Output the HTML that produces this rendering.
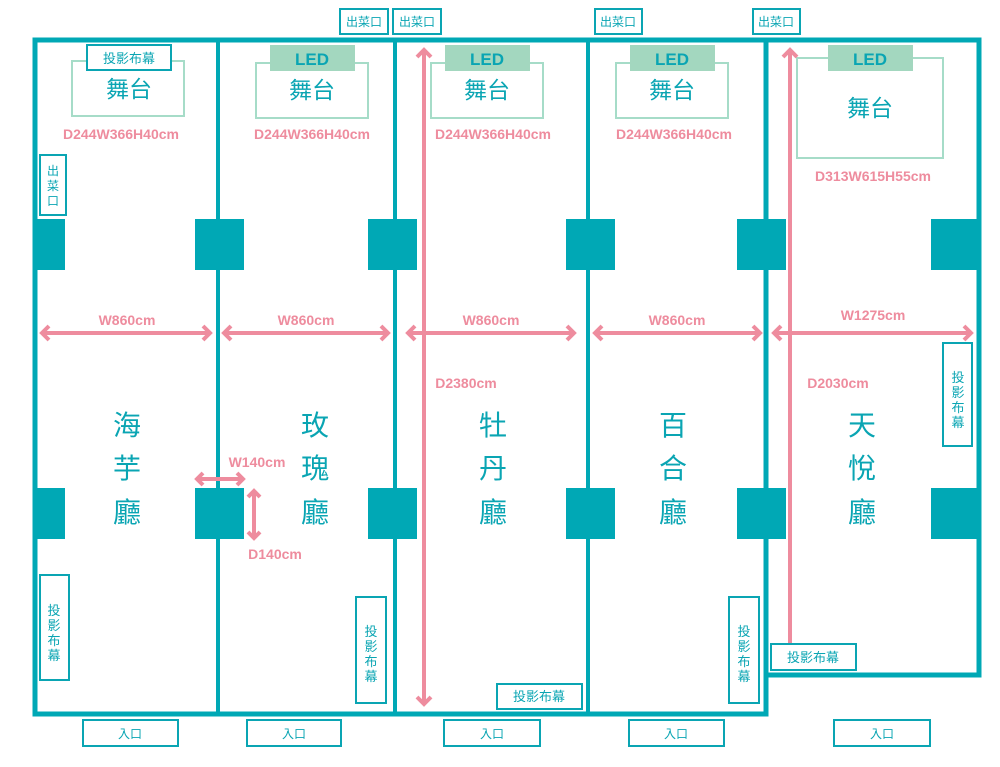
<!DOCTYPE html>
<html><head><meta charset="utf-8"><style>
html,body{margin:0;padding:0;background:#fff;}
svg{display:block;}
text{font-family:"Liberation Sans","Noto Sans CJK TC",sans-serif;}
.p{fill:#ee8c9e;font-weight:bold;font-size:14px;text-anchor:middle;}
.t{fill:#0aa5b3;text-anchor:middle;}
.bx{fill:#fff;stroke:#0aa5b3;stroke-width:2;}
.st{fill:none;stroke:#a6dcc8;stroke-width:2;}
.led{fill:#a3d7bf;}
.ar{fill:none;stroke:#ee8c9e;stroke-width:4;}
.ah{fill:none;stroke:#ee8c9e;stroke-width:4;stroke-linejoin:miter;}
</style></head><body>
<svg width="1000" height="767" viewBox="0 0 1000 767" xmlns="http://www.w3.org/2000/svg">
<!-- walls -->
<g fill="none" stroke="#00a8b5">
<rect x="35" y="40" width="731" height="674" stroke-width="5"/>
<rect x="766" y="40" width="213" height="635" stroke-width="5"/>
<line x1="218" y1="40" x2="218" y2="714" stroke-width="4"/>
<line x1="395" y1="40" x2="395" y2="714" stroke-width="4"/>
<line x1="588" y1="40" x2="588" y2="714" stroke-width="4"/>
</g>
<!-- pillars -->
<g fill="#00a8b5">
<rect x="37" y="219" width="28" height="51"/><rect x="195" y="219" width="49" height="51"/><rect x="368" y="219" width="49" height="51"/><rect x="566" y="219" width="49" height="51"/><rect x="737" y="219" width="49" height="51"/><rect x="931" y="219" width="47" height="51"/>
<rect x="37" y="488" width="28" height="51"/><rect x="195" y="488" width="49" height="51"/><rect x="368" y="488" width="49" height="51"/><rect x="566" y="488" width="49" height="51"/><rect x="737" y="488" width="49" height="51"/><rect x="931" y="488" width="47" height="51"/>
</g>
<!-- stages -->
<rect class="st" x="72" y="61" width="112" height="55"/>
<rect class="st" x="256" y="63" width="112" height="55"/>
<rect class="st" x="431" y="63" width="112" height="55"/>
<rect class="st" x="616" y="63" width="112" height="55"/>
<rect class="st" x="797" y="58" width="146" height="100"/>
<rect class="bx" x="87" y="45" width="84" height="25"/>
<text class="t" x="129" y="63" font-size="13">投影布幕</text>
<rect class="led" x="270" y="45" width="85" height="26"/><rect class="led" x="445" y="45" width="85" height="26"/><rect class="led" x="630" y="45" width="85" height="26"/><rect class="led" x="828" y="45" width="85" height="26"/>
<g class="t" font-size="17" font-weight="bold" fill="#0aa5b3"><text x="312" y="65">LED</text><text x="487" y="65">LED</text><text x="672" y="65">LED</text><text x="870" y="65">LED</text></g>
<g class="t" font-size="23"><text x="129" y="97">舞台</text><text x="312" y="98">舞台</text><text x="487" y="98">舞台</text><text x="672" y="98">舞台</text><text x="870" y="116">舞台</text></g>
<g class="p"><text x="121" y="139">D244W366H40cm</text><text x="312" y="139">D244W366H40cm</text><text x="493" y="139">D244W366H40cm</text><text x="674" y="139">D244W366H40cm</text><text x="873" y="181">D313W615H55cm</text></g>
<!-- top 出菜口 -->
<rect class="bx" x="340" y="9" width="48" height="25"/><rect class="bx" x="393" y="9" width="48" height="25"/><rect class="bx" x="595" y="9" width="47" height="25"/><rect class="bx" x="753" y="9" width="47" height="25"/>
<g class="t" font-size="12"><text x="364" y="26">出菜口</text><text x="417" y="26">出菜口</text><text x="618" y="26">出菜口</text><text x="776" y="26">出菜口</text></g>
<rect class="bx" x="40" y="155" width="26" height="60"/>
<g class="t" font-size="12"><text x="53" y="175">出</text><text x="53" y="190">菜</text><text x="53" y="205">口</text></g>
<!-- W arrows -->
<g class="ar"><line x1="42" y1="333" x2="210" y2="333"/><line x1="224" y1="333" x2="388" y2="333"/><line x1="408" y1="333" x2="574" y2="333"/><line x1="595" y1="333" x2="760" y2="333"/><line x1="774" y1="333" x2="971" y2="333"/></g>
<g class="ah">
<polyline points="49,326 42,333 49,340"/><polyline points="203,326 210,333 203,340"/>
<polyline points="231,326 224,333 231,340"/><polyline points="381,326 388,333 381,340"/>
<polyline points="415,326 408,333 415,340"/><polyline points="567,326 574,333 567,340"/>
<polyline points="602,326 595,333 602,340"/><polyline points="753,326 760,333 753,340"/>
<polyline points="781,326 774,333 781,340"/><polyline points="964,326 971,333 964,340"/>
</g>
<g class="p"><text x="127" y="325">W860cm</text><text x="306" y="325">W860cm</text><text x="491" y="325">W860cm</text><text x="677" y="325">W860cm</text><text x="873" y="320">W1275cm</text></g>
<!-- vertical D arrows -->
<g class="ar"><line x1="424" y1="50" x2="424" y2="704"/><line x1="790" y1="50" x2="790" y2="645"/></g>
<g class="ah"><polyline points="417,57 424,50 431,57"/><polyline points="417,697 424,704 431,697"/><polyline points="783,57 790,50 797,57"/></g>
<g class="p"><text x="466" y="388">D2380cm</text><text x="838" y="388">D2030cm</text></g>
<!-- pillar dims -->
<g class="ar"><line x1="197" y1="479" x2="243" y2="479"/><line x1="254" y1="491" x2="254" y2="538"/></g>
<g class="ah"><polyline points="203,473 197,479 203,485"/><polyline points="237,473 243,479 237,485"/><polyline points="248,497 254,491 260,497"/><polyline points="248,532 254,538 260,532"/></g>
<g class="p"><text x="257" y="467">W140cm</text><text x="275" y="559">D140cm</text></g>
<!-- room names -->
<g class="t" font-size="28">
<text x="127" y="435">海</text><text x="127" y="478">芋</text><text x="127" y="522">廳</text>
<text x="315" y="435">玫</text><text x="315" y="478">瑰</text><text x="315" y="522">廳</text>
<text x="493" y="435">牡</text><text x="493" y="478">丹</text><text x="493" y="522">廳</text>
<text x="673" y="435">百</text><text x="673" y="478">合</text><text x="673" y="522">廳</text>
<text x="862" y="435">天</text><text x="862" y="478">悅</text><text x="862" y="522">廳</text>
</g>
<!-- screens -->
<rect class="bx" x="40" y="575" width="29" height="105"/>
<rect class="bx" x="356" y="597" width="30" height="106"/>
<rect class="bx" x="729" y="597" width="30" height="106"/>
<rect class="bx" x="943" y="343" width="29" height="103"/>
<rect class="bx" x="497" y="684" width="85" height="25"/>
<rect class="bx" x="771" y="644" width="85" height="26"/>
<g class="t" font-size="13">
<text x="54" y="615">投</text><text x="54" y="630">影</text><text x="54" y="645">布</text><text x="54" y="660">幕</text>
<text x="371" y="636">投</text><text x="371" y="651">影</text><text x="371" y="666">布</text><text x="371" y="681">幕</text>
<text x="744" y="636">投</text><text x="744" y="651">影</text><text x="744" y="666">布</text><text x="744" y="681">幕</text>
<text x="958" y="382">投</text><text x="958" y="397">影</text><text x="958" y="412">布</text><text x="958" y="427">幕</text>
<text x="539" y="701">投影布幕</text><text x="813" y="662">投影布幕</text>
</g>
<!-- entrances -->
<rect class="bx" x="83" y="720" width="95" height="26"/><rect class="bx" x="247" y="720" width="94" height="26"/><rect class="bx" x="444" y="720" width="96" height="26"/><rect class="bx" x="629" y="720" width="95" height="26"/><rect class="bx" x="834" y="720" width="96" height="26"/>
<g class="t" font-size="12"><text x="130" y="738">入口</text><text x="294" y="738">入口</text><text x="492" y="738">入口</text><text x="676" y="738">入口</text><text x="882" y="738">入口</text></g>
</svg>
</body></html>
